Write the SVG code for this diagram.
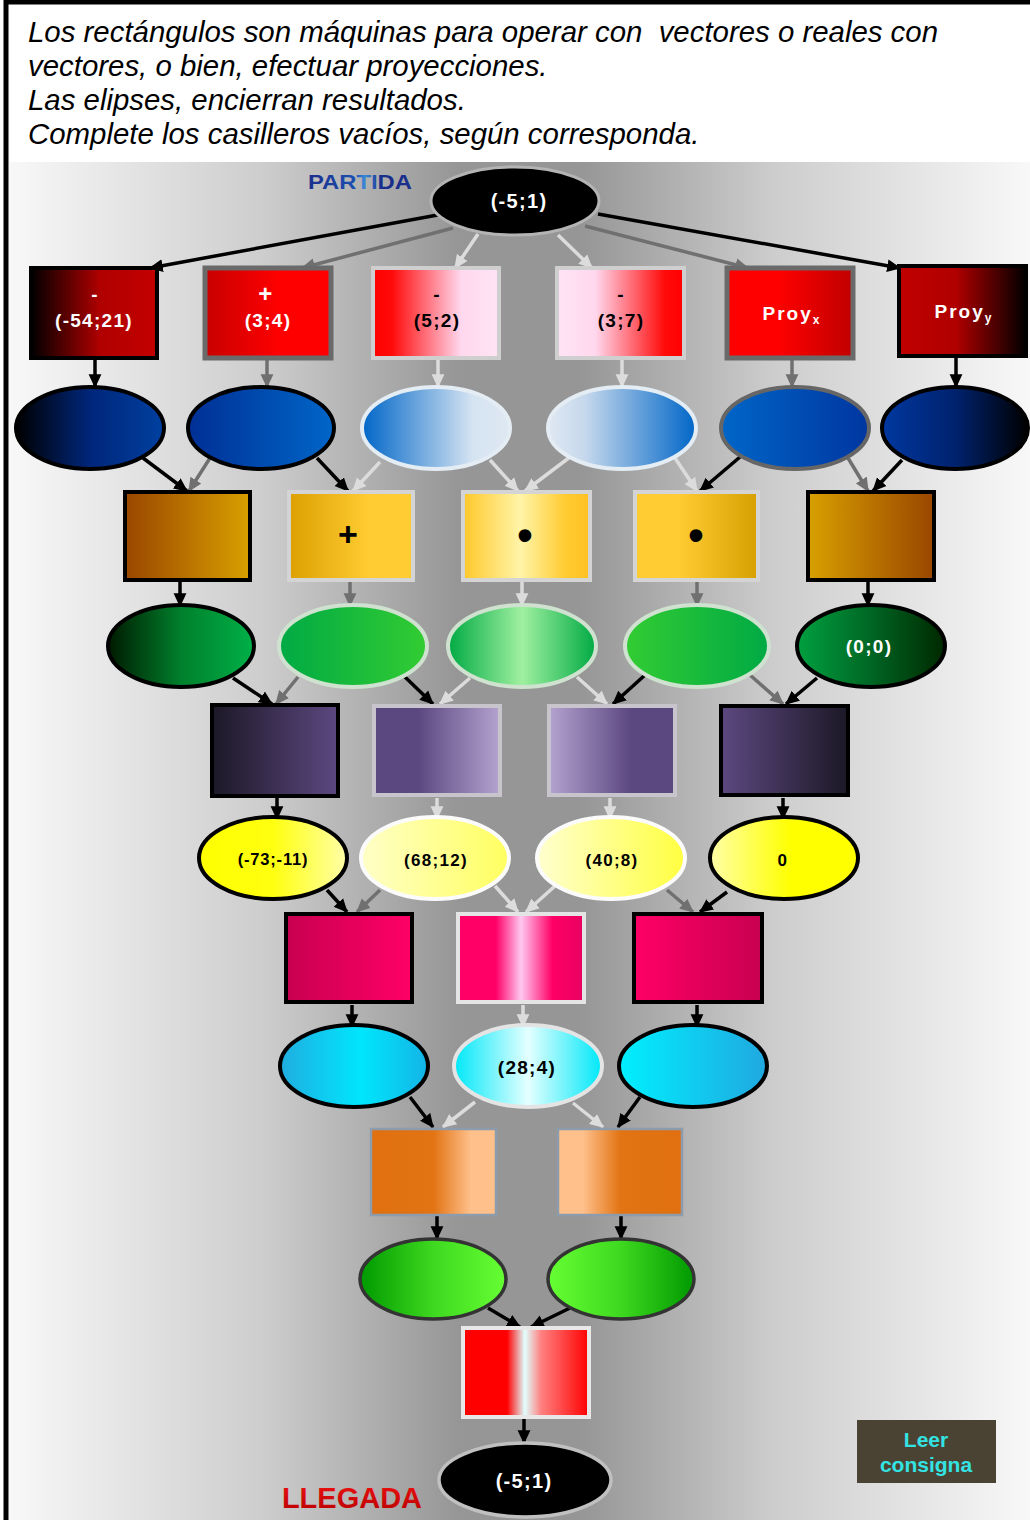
<svg xmlns="http://www.w3.org/2000/svg" width="1030" height="1520" viewBox="0 0 1030 1520">
<style>
.t{font-family:"Liberation Sans",Arial,sans-serif;font-weight:bold;font-size:19px;text-anchor:middle;letter-spacing:1.3px}
.w{fill:#fff}.k{fill:#000}
.intro{font-family:"Liberation Sans",Arial,sans-serif;font-style:italic;font-size:29.4px;fill:#000}
.ab{stroke:#000;stroke-width:3.5;fill:none;marker-end:url(#mb)}
.ag{stroke:#707070;stroke-width:3.5;fill:none;marker-end:url(#mg)}
.al{stroke:#dcdcdc;stroke-width:3.5;fill:none;marker-end:url(#ml)}
.sb{stroke:#000;stroke-width:4}
.sg{stroke:#666;stroke-width:4}
.sl{stroke:#d4d4d4;stroke-width:4}
</style>
<defs>
<marker id="mb" markerUnits="userSpaceOnUse" viewBox="0 0 12 12" markerWidth="14" markerHeight="14" refX="11" refY="6" orient="auto"><path d="M0,0.5 L12,6 L0,11.5 z" fill="#000"/></marker>
<marker id="mg" markerUnits="userSpaceOnUse" viewBox="0 0 12 12" markerWidth="14" markerHeight="14" refX="11" refY="6" orient="auto"><path d="M0,0.5 L12,6 L0,11.5 z" fill="#707070"/></marker>
<marker id="ml" markerUnits="userSpaceOnUse" viewBox="0 0 12 12" markerWidth="14" markerHeight="14" refX="11" refY="6" orient="auto"><path d="M0,0.5 L12,6 L0,11.5 z" fill="#dcdcdc"/></marker>
<linearGradient id="bg" x1="0" x2="1" y1="0" y2="0"><stop offset="0" stop-color="#f8f8f8"/><stop offset="0.25" stop-color="#cdcdcd"/><stop offset="0.44" stop-color="#969696"/><stop offset="0.56" stop-color="#969696"/><stop offset="0.75" stop-color="#cdcdcd"/><stop offset="1" stop-color="#f8f8f8"/></linearGradient>
<linearGradient id="partida" x1="0" x2="1"><stop offset="0" stop-color="#1a2e8c"/><stop offset="0.45" stop-color="#1d4fb0"/><stop offset="0.55" stop-color="#3a8ad8"/><stop offset="0.7" stop-color="#1a2e8c"/><stop offset="1" stop-color="#1a2e8c"/></linearGradient>
<linearGradient id="llegada" x1="0" x2="0" y1="0" y2="1"><stop offset="0" stop-color="#ee1111"/><stop offset="1" stop-color="#b80000"/></linearGradient>
<linearGradient id="r1" x1="0" x2="1"><stop offset="0" stop-color="#000"/><stop offset="0.55" stop-color="#b00000"/><stop offset="1" stop-color="#c40000"/></linearGradient>
<linearGradient id="r2" x1="0" x2="1"><stop offset="0" stop-color="#c80000"/><stop offset="0.6" stop-color="#ff0000"/><stop offset="1" stop-color="#ff0000"/></linearGradient>
<linearGradient id="r3" x1="0" x2="1"><stop offset="0" stop-color="#ff0000"/><stop offset="0.15" stop-color="#ff0a0a"/><stop offset="0.7" stop-color="#ffd8ee"/><stop offset="1" stop-color="#ffe4f6"/></linearGradient>
<linearGradient id="r4" x1="0" x2="1"><stop offset="0" stop-color="#ffe4f6"/><stop offset="0.3" stop-color="#ffd8ee"/><stop offset="0.85" stop-color="#ff0a0a"/><stop offset="1" stop-color="#ff0000"/></linearGradient>
<linearGradient id="r5" x1="0" x2="1"><stop offset="0" stop-color="#ff0000"/><stop offset="0.4" stop-color="#ff0000"/><stop offset="1" stop-color="#c00000"/></linearGradient>
<linearGradient id="r6" x1="0" x2="1"><stop offset="0" stop-color="#c00000"/><stop offset="0.45" stop-color="#b00000"/><stop offset="1" stop-color="#000"/></linearGradient>
<linearGradient id="e1" x1="0" x2="1"><stop offset="0" stop-color="#000"/><stop offset="0.5" stop-color="#00267a"/><stop offset="1" stop-color="#0040a0"/></linearGradient>
<linearGradient id="e2" x1="0" x2="1"><stop offset="0" stop-color="#002f95"/><stop offset="1" stop-color="#0066c8"/></linearGradient>
<linearGradient id="e3" x1="0" x2="1"><stop offset="0" stop-color="#0066c8"/><stop offset="0.75" stop-color="#d6e4f2"/><stop offset="1" stop-color="#dfe8f2"/></linearGradient>
<linearGradient id="e4" x1="0" x2="1"><stop offset="0" stop-color="#dfe8f2"/><stop offset="0.25" stop-color="#c6d8ec"/><stop offset="1" stop-color="#0066c8"/></linearGradient>
<linearGradient id="e5" x1="0" x2="1"><stop offset="0" stop-color="#0066c8"/><stop offset="1" stop-color="#0036a0"/></linearGradient>
<linearGradient id="e6" x1="0" x2="1"><stop offset="0" stop-color="#0038a0"/><stop offset="0.5" stop-color="#00226e"/><stop offset="1" stop-color="#000"/></linearGradient>
<linearGradient id="o1" x1="0" x2="1"><stop offset="0" stop-color="#9a4600"/><stop offset="1" stop-color="#d8a000"/></linearGradient>
<linearGradient id="o2" x1="0" x2="1"><stop offset="0" stop-color="#dca000"/><stop offset="0.65" stop-color="#ffcc33"/><stop offset="1" stop-color="#ffcc33"/></linearGradient>
<linearGradient id="o3" x1="0" x2="1"><stop offset="0" stop-color="#ffc828"/><stop offset="0.45" stop-color="#fff4a8"/><stop offset="0.8" stop-color="#ffcc33"/><stop offset="1" stop-color="#ffc020"/></linearGradient>
<linearGradient id="o4" x1="0" x2="1"><stop offset="0" stop-color="#ffcc33"/><stop offset="0.35" stop-color="#ffcc33"/><stop offset="1" stop-color="#d6a000"/></linearGradient>
<linearGradient id="o5" x1="0" x2="1"><stop offset="0" stop-color="#d8a000"/><stop offset="1" stop-color="#9a4600"/></linearGradient>
<linearGradient id="g1" x1="0" x2="1"><stop offset="0" stop-color="#001a00"/><stop offset="0.5" stop-color="#00802c"/><stop offset="1" stop-color="#00b048"/></linearGradient>
<linearGradient id="g2" x1="0" x2="1"><stop offset="0" stop-color="#00aa44"/><stop offset="1" stop-color="#33cc33"/></linearGradient>
<linearGradient id="g3" x1="0" x2="1"><stop offset="0" stop-color="#00aa44"/><stop offset="0.5" stop-color="#a0f0a0"/><stop offset="1" stop-color="#00aa44"/></linearGradient>
<linearGradient id="g4" x1="0" x2="1"><stop offset="0" stop-color="#33cc33"/><stop offset="1" stop-color="#00aa44"/></linearGradient>
<linearGradient id="g5" x1="0" x2="1"><stop offset="0" stop-color="#00a040"/><stop offset="0.5" stop-color="#006624"/><stop offset="1" stop-color="#002800"/></linearGradient>
<linearGradient id="p1" x1="0" x2="1"><stop offset="0" stop-color="#1c1826"/><stop offset="1" stop-color="#5c4880"/></linearGradient>
<linearGradient id="p2" x1="0" x2="1"><stop offset="0" stop-color="#5c4880"/><stop offset="0.35" stop-color="#5c4880"/><stop offset="1" stop-color="#b4a2d0"/></linearGradient>
<linearGradient id="p3" x1="0" x2="1"><stop offset="0" stop-color="#b4a2d0"/><stop offset="0.65" stop-color="#5c4880"/><stop offset="1" stop-color="#5c4880"/></linearGradient>
<linearGradient id="p4" x1="0" x2="1"><stop offset="0" stop-color="#5c4880"/><stop offset="1" stop-color="#1c1826"/></linearGradient>
<linearGradient id="y1" x1="0" x2="1"><stop offset="0" stop-color="#ffff00"/><stop offset="0.5" stop-color="#ffff10"/><stop offset="1" stop-color="#ffffa8"/></linearGradient>
<linearGradient id="y2" x1="0" x2="1"><stop offset="0" stop-color="#ffffc8"/><stop offset="1" stop-color="#ffff60"/></linearGradient>
<linearGradient id="y3" x1="0" x2="1"><stop offset="0" stop-color="#ffffd0"/><stop offset="1" stop-color="#ffff40"/></linearGradient>
<linearGradient id="y4" x1="0" x2="1"><stop offset="0" stop-color="#ffffa8"/><stop offset="0.55" stop-color="#ffff00"/><stop offset="1" stop-color="#ffff00"/></linearGradient>
<linearGradient id="m1" x1="0" x2="1"><stop offset="0" stop-color="#c80050"/><stop offset="1" stop-color="#ff0066"/></linearGradient>
<linearGradient id="m2" x1="0" x2="1"><stop offset="0" stop-color="#ff0066"/><stop offset="0.3" stop-color="#ff0066"/><stop offset="0.5" stop-color="#ffc8f0"/><stop offset="0.75" stop-color="#ff0066"/><stop offset="1" stop-color="#e80060"/></linearGradient>
<linearGradient id="m3" x1="0" x2="1"><stop offset="0" stop-color="#ff0066"/><stop offset="1" stop-color="#c80050"/></linearGradient>
<linearGradient id="c1" x1="0" x2="1"><stop offset="0" stop-color="#20ade0"/><stop offset="0.55" stop-color="#00e6fc"/><stop offset="1" stop-color="#14b4e6"/></linearGradient>
<linearGradient id="c2" x1="0" x2="1"><stop offset="0" stop-color="#00e8f8"/><stop offset="0.5" stop-color="#e4ffff"/><stop offset="1" stop-color="#00e8f8"/></linearGradient>
<linearGradient id="c3" x1="0" x2="1"><stop offset="0" stop-color="#00f0ff"/><stop offset="1" stop-color="#20a8e0"/></linearGradient>
<linearGradient id="n1" x1="0" x2="1"><stop offset="0" stop-color="#e07010"/><stop offset="0.5" stop-color="#e27414"/><stop offset="0.8" stop-color="#ffc08c"/><stop offset="1" stop-color="#ffc08c"/></linearGradient>
<linearGradient id="n2" x1="0" x2="1"><stop offset="0" stop-color="#ffc08c"/><stop offset="0.2" stop-color="#ffc08c"/><stop offset="0.5" stop-color="#e27414"/><stop offset="1" stop-color="#e07010"/></linearGradient>
<linearGradient id="l1" x1="0" x2="1"><stop offset="0" stop-color="#009900"/><stop offset="0.5" stop-color="#3ed820"/><stop offset="1" stop-color="#66ff33"/></linearGradient>
<linearGradient id="l2" x1="0" x2="1"><stop offset="0" stop-color="#66ff33"/><stop offset="0.5" stop-color="#3ed820"/><stop offset="1" stop-color="#009900"/></linearGradient>
<linearGradient id="fr" x1="0" x2="1"><stop offset="0" stop-color="#ff0000"/><stop offset="0.35" stop-color="#ff0000"/><stop offset="0.49" stop-color="#e0ffff"/><stop offset="0.62" stop-color="#ff8080"/><stop offset="1" stop-color="#ff0000"/></linearGradient>
</defs>

<rect x="0" y="0" width="1030" height="1520" fill="#fff"/>
<rect x="9" y="162" width="1021" height="1358" fill="url(#bg)"/>
<rect x="6" y="2" width="1040" height="1540" fill="none" stroke="#000" stroke-width="5"/>

<g id="intro">
<text class="intro" x="28" y="42" xml:space="preserve">Los rectángulos son máquinas para operar con  vectores o reales con</text>
<text class="intro" x="28" y="76">vectores, o bien, efectuar proyecciones.</text>
<text class="intro" x="28" y="110">Las elipses, encierran resultados.</text>
<text class="intro" x="28" y="144">Complete los casilleros vacíos, según corresponda.</text>
</g>

<g id="labels">
<text x="360" y="189" font-family="'Liberation Sans',Arial,sans-serif" font-weight="bold" font-size="21" fill="url(#partida)" text-anchor="middle" textLength="104" lengthAdjust="spacingAndGlyphs">PARTIDA</text>
<text x="352" y="1508" font-family="'Liberation Sans',Arial,sans-serif" font-weight="bold" font-size="29" fill="url(#llegada)" text-anchor="middle">LLEGADA</text>
</g>

<g id="connectors">
<line class="ab" x1="443" y1="214" x2="150" y2="268"/>
<line class="ag" x1="453" y1="228" x2="302" y2="268"/>
<line class="al" x1="478" y1="234" x2="455" y2="268"/>
<line class="al" x1="558" y1="235" x2="592" y2="268"/>
<line class="ag" x1="585" y1="226" x2="748" y2="268"/>
<line class="ab" x1="598" y1="214" x2="900" y2="268"/>
<line class="ab" x1="95" y1="360" x2="95" y2="387"/>
<line class="ag" x1="267" y1="360" x2="267" y2="387"/>
<line class="al" x1="438" y1="360" x2="438" y2="387"/>
<line class="al" x1="622" y1="360" x2="622" y2="387"/>
<line class="ag" x1="792" y1="360" x2="792" y2="387"/>
<line class="ab" x1="956" y1="358" x2="956" y2="387"/>
<line class="ab" x1="143" y1="458" x2="187" y2="491"/>
<line class="ag" x1="210" y1="458" x2="189" y2="491"/>
<line class="ab" x1="317" y1="458" x2="348" y2="491"/>
<line class="al" x1="380" y1="462" x2="353" y2="491"/>
<line class="al" x1="490" y1="460" x2="518" y2="491"/>
<line class="al" x1="570" y1="457" x2="525" y2="491"/>
<line class="al" x1="675" y1="458" x2="697" y2="491"/>
<line class="ab" x1="740" y1="457" x2="700" y2="491"/>
<line class="ag" x1="848" y1="458" x2="868" y2="491"/>
<line class="ab" x1="902" y1="460" x2="873" y2="491"/>
<line class="ab" x1="180" y1="582" x2="180" y2="606"/>
<line class="ag" x1="350" y1="582" x2="350" y2="606"/>
<line class="al" x1="522" y1="582" x2="522" y2="606"/>
<line class="ag" x1="697" y1="582" x2="697" y2="606"/>
<line class="ab" x1="868" y1="582" x2="868" y2="606"/>
<line class="ab" x1="233" y1="678" x2="272" y2="704"/>
<line class="ag" x1="298" y1="677" x2="276" y2="704"/>
<line class="ab" x1="405" y1="677" x2="433" y2="704"/>
<line class="al" x1="470" y1="678" x2="440" y2="704"/>
<line class="al" x1="577" y1="677" x2="607" y2="704"/>
<line class="ab" x1="645" y1="675" x2="613" y2="704"/>
<line class="ag" x1="750" y1="675" x2="783" y2="704"/>
<line class="ab" x1="817" y1="678" x2="786" y2="704"/>
<line class="ab" x1="277" y1="798" x2="277" y2="819"/>
<line class="al" x1="437" y1="798" x2="437" y2="819"/>
<line class="al" x1="610" y1="798" x2="610" y2="819"/>
<line class="ab" x1="783" y1="798" x2="783" y2="819"/>
<line class="ab" x1="327" y1="890" x2="347" y2="912"/>
<line class="ag" x1="380" y1="890" x2="357" y2="912"/>
<line class="al" x1="495" y1="886" x2="518" y2="912"/>
<line class="al" x1="555" y1="886" x2="526" y2="912"/>
<line class="ag" x1="667" y1="890" x2="693" y2="912"/>
<line class="ab" x1="727" y1="892" x2="700" y2="912"/>
<line class="ab" x1="352" y1="1005" x2="352" y2="1027"/>
<line class="al" x1="523" y1="1005" x2="523" y2="1027"/>
<line class="ab" x1="697" y1="1005" x2="697" y2="1027"/>
<line class="ab" x1="410" y1="1097" x2="433" y2="1127"/>
<line class="al" x1="475" y1="1102" x2="443" y2="1127"/>
<line class="al" x1="573" y1="1103" x2="603" y2="1127"/>
<line class="ab" x1="640" y1="1097" x2="618" y2="1127"/>
<line class="ab" x1="437" y1="1216" x2="437" y2="1239"/>
<line class="ab" x1="621" y1="1216" x2="621" y2="1239"/>
<line class="ab" x1="488" y1="1308" x2="520" y2="1327"/>
<line class="ab" x1="570" y1="1308" x2="531" y2="1327"/>
<line class="ab" x1="524" y1="1419" x2="524" y2="1443"/>
</g>

<g id="start"><ellipse cx="515" cy="201" rx="84" ry="34" fill="#000" stroke="#b4b4b4" stroke-width="3"/><text class="t w" x="519" y="208" style="font-size:20px">(-5;1)</text></g>

<g id="row1-1"><rect x="31" y="268" width="126" height="90" fill="url(#r1)" class="sb"/><text class="t w" x="95" y="301">-</text><text class="t w" x="94" y="327">(-54;21)</text></g>
<g id="row1-2"><rect x="205" y="268" width="126" height="90" fill="url(#r2)" stroke="#6a6a6a" stroke-width="5"/><text class="t w" x="266" y="302" style="font-size:24px">+</text><text class="t w" x="268" y="327">(3;4)</text></g>
<g id="row1-3"><rect x="373" y="268" width="126" height="90" fill="url(#r3)" stroke="#cfcfcf" stroke-width="4"/><text class="t k" x="437" y="301">-</text><text class="t k" x="437" y="327">(5;2)</text></g>
<g id="row1-4"><rect x="557" y="268" width="127" height="90" fill="url(#r4)" stroke="#cfcfcf" stroke-width="4"/><text class="t k" x="621" y="301">-</text><text class="t k" x="621" y="327">(3;7)</text></g>
<g id="row1-5"><rect x="727" y="268" width="126" height="90" fill="url(#r5)" stroke="#6a6a6a" stroke-width="5"/><text class="t w" x="792" y="320" style="letter-spacing:2px">Proy<tspan font-size="12" dy="4">x</tspan></text></g>
<g id="row1-6"><rect x="899" y="266" width="127" height="90" fill="url(#r6)" class="sb"/><text class="t w" x="964" y="318" style="letter-spacing:2px">Proy<tspan font-size="12" dy="4">y</tspan></text></g>

<g id="row2-1"><ellipse cx="90" cy="428" rx="74" ry="41" fill="url(#e1)" class="sb"/></g>
<g id="row2-2"><ellipse cx="261" cy="428" rx="73" ry="41" fill="url(#e2)" class="sb"/></g>
<g id="row2-3"><ellipse cx="436" cy="428" rx="74" ry="41" fill="url(#e3)" stroke="#e4ecf4" stroke-width="4"/></g>
<g id="row2-4"><ellipse cx="622" cy="428" rx="74" ry="41" fill="url(#e4)" stroke="#e4ecf4" stroke-width="4"/></g>
<g id="row2-5"><ellipse cx="795" cy="428" rx="74" ry="41" fill="url(#e5)" class="sg"/></g>
<g id="row2-6"><ellipse cx="955" cy="428" rx="73" ry="41" fill="url(#e6)" class="sb"/></g>

<g id="row3-1"><rect x="125" y="492" width="125" height="88" fill="url(#o1)" class="sb"/></g>
<g id="row3-2"><rect x="289" y="492" width="124" height="88" fill="url(#o2)" class="sl"/><text class="t k" x="348" y="546" style="font-size:34px;letter-spacing:0">+</text></g>
<g id="row3-3"><rect x="463" y="492" width="127" height="88" fill="url(#o3)" class="sl"/><text class="t k" x="525" y="550" style="font-size:44px;letter-spacing:0">•</text></g>
<g id="row3-4"><rect x="635" y="492" width="123" height="88" fill="url(#o4)" class="sl"/><text class="t k" x="696" y="550" style="font-size:44px;letter-spacing:0">•</text></g>
<g id="row3-5"><rect x="808" y="492" width="126" height="88" fill="url(#o5)" class="sb"/></g>

<g id="row4-1"><ellipse cx="181" cy="646" rx="73" ry="41" fill="url(#g1)" class="sb"/></g>
<g id="row4-2"><ellipse cx="353" cy="646" rx="74" ry="41" fill="url(#g2)" stroke="#cfe2cf" stroke-width="4"/></g>
<g id="row4-3"><ellipse cx="522" cy="646" rx="74" ry="41" fill="url(#g3)" stroke="#cfe2cf" stroke-width="4"/></g>
<g id="row4-4"><ellipse cx="697" cy="646" rx="72" ry="41" fill="url(#g4)" stroke="#cfe2cf" stroke-width="4"/></g>
<g id="row4-5"><ellipse cx="871" cy="646" rx="74" ry="41" fill="url(#g5)" class="sb"/><text class="t w" x="869" y="653">(0;0)</text></g>

<g id="row5-1"><rect x="212" y="705" width="126" height="91" fill="url(#p1)" class="sb"/></g>
<g id="row5-2"><rect x="374" y="706" width="126" height="89" fill="url(#p2)" stroke="#c8c4cc" stroke-width="4"/></g>
<g id="row5-3"><rect x="549" y="706" width="126" height="89" fill="url(#p3)" stroke="#c8c4cc" stroke-width="4"/></g>
<g id="row5-4"><rect x="721" y="706" width="127" height="89" fill="url(#p4)" class="sb"/></g>

<g id="row6-1"><ellipse cx="273" cy="858" rx="74" ry="41" fill="url(#y1)" class="sb"/><text class="t k" x="273" y="865" style="font-size:16.5px;letter-spacing:0.8px">(-73;-11)</text></g>
<g id="row6-2"><ellipse cx="435" cy="858" rx="74" ry="41" fill="url(#y2)" stroke="#fbfbfb" stroke-width="4"/><text class="t k" x="436" y="866" style="font-size:17px">(68;12)</text></g>
<g id="row6-3"><ellipse cx="611" cy="858" rx="74" ry="41" fill="url(#y3)" stroke="#fbfbfb" stroke-width="4"/><text class="t k" x="612" y="866" style="font-size:17px">(40;8)</text></g>
<g id="row6-4"><ellipse cx="784" cy="858" rx="74" ry="41" fill="url(#y4)" class="sb"/><text class="t k" x="783" y="866" style="font-size:17px">0</text></g>

<g id="row7-1"><rect x="286" y="914" width="126" height="88" fill="url(#m1)" class="sb"/></g>
<g id="row7-2"><rect x="458" y="914" width="126" height="88" fill="url(#m2)" stroke="#e4e4e4" stroke-width="4"/></g>
<g id="row7-3"><rect x="634" y="914" width="128" height="88" fill="url(#m3)" class="sb"/></g>

<g id="row8-1"><ellipse cx="354" cy="1066" rx="74" ry="41" fill="url(#c1)" class="sb"/></g>
<g id="row8-2"><ellipse cx="528" cy="1066" rx="74" ry="41" fill="url(#c2)" stroke="#e4e4e4" stroke-width="4"/><text class="t k" x="527" y="1074">(28;4)</text></g>
<g id="row8-3"><ellipse cx="693" cy="1066" rx="74" ry="41" fill="url(#c3)" class="sb"/></g>

<g id="row9-1"><rect x="371" y="1129" width="125" height="86" fill="url(#n1)" stroke="#8c9cac" stroke-width="2.5"/></g>
<g id="row9-2"><rect x="558" y="1129" width="124" height="86" fill="url(#n2)" stroke="#8c9cac" stroke-width="2.5"/></g>

<g id="row10-1"><ellipse cx="433" cy="1279" rx="73" ry="40" fill="url(#l1)" stroke="#333" stroke-width="3.5"/></g>
<g id="row10-2"><ellipse cx="621" cy="1279" rx="73" ry="40" fill="url(#l2)" stroke="#333" stroke-width="3.5"/></g>

<g id="final-op"><rect x="463" y="1328" width="126" height="89" fill="url(#fr)" stroke="#e8e8e8" stroke-width="4"/></g>

<g id="end"><ellipse cx="525" cy="1480" rx="86" ry="37" fill="#000" stroke="#c0c0c0" stroke-width="3.5"/><text class="t w" x="524" y="1488" style="font-size:20px">(-5;1)</text></g>

<g id="leer-consigna"><rect x="857" y="1420" width="139" height="63" fill="#4a4232"/><text x="926" y="1447" font-family="'Liberation Sans',Arial,sans-serif" font-weight="bold" font-size="21" fill="#33e3e3" text-anchor="middle">Leer</text><text x="926" y="1472" font-family="'Liberation Sans',Arial,sans-serif" font-weight="bold" font-size="21" fill="#33e3e3" text-anchor="middle">consigna</text></g>
</svg>
